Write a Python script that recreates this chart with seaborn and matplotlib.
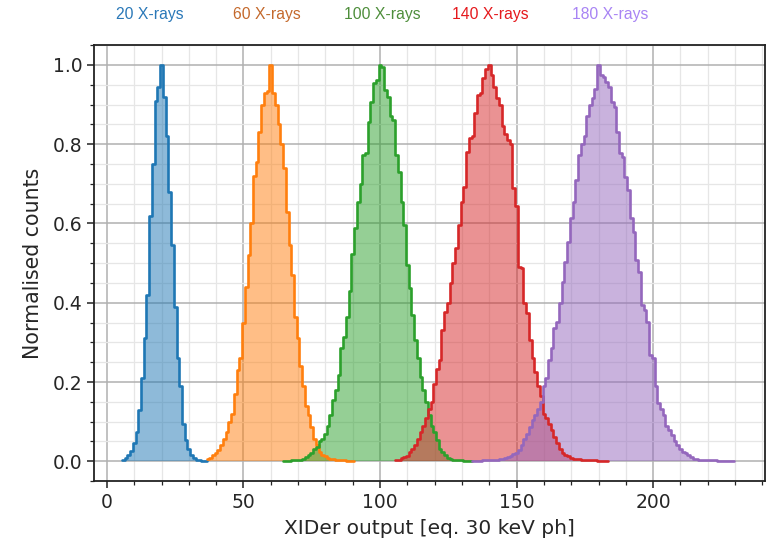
import numpy as np
import pandas as pd
import matplotlib
matplotlib.use("Agg")
import matplotlib.pyplot as plt
import seaborn as sns
from matplotlib.ticker import MultipleLocator

# ---- data (normalised counts per unit-wide bin) ----
labels = ["20 X-rays", "60 X-rays", "100 X-rays", "140 X-rays", "180 X-rays"]
first_bin = [6, 37, 65, 106, 134]

counts_20 = [0.003, 0.008, 0.015, 0.025, 0.045, 0.075, 0.13, 0.21, 0.31, 0.42, 0.62, 0.75,
             0.91, 0.945, 1.0, 0.92, 0.82, 0.68, 0.545, 0.39, 0.26, 0.19, 0.095, 0.053,
             0.032, 0.015, 0.008, 0.004, 0.002, 0.001, 0.0005]
counts_60 = [0.005, 0.008, 0.015, 0.02, 0.028, 0.04, 0.057, 0.074, 0.10, 0.12, 0.17, 0.23,
             0.26, 0.35, 0.44, 0.52, 0.60, 0.72, 0.756, 0.83, 0.90, 0.93, 0.933, 1.0,
             0.93, 0.90, 0.85, 0.80, 0.74, 0.63, 0.545, 0.47, 0.365, 0.31, 0.24, 0.19,
             0.14, 0.116, 0.087, 0.057, 0.04, 0.024, 0.017, 0.013, 0.009, 0.007, 0.005,
             0.004, 0.003, 0.002, 0.002, 0.001, 0.001, 0.001]
counts_100 = [0.001, 0.001, 0.001, 0.002, 0.002, 0.003, 0.004, 0.006, 0.01, 0.015, 0.02,
              0.03, 0.036, 0.05, 0.057, 0.07, 0.09, 0.116, 0.154, 0.18, 0.217, 0.285,
              0.314, 0.365, 0.43, 0.524, 0.588, 0.655, 0.70, 0.773, 0.777, 0.857, 0.907,
              0.955, 0.962, 1.0, 0.995, 0.937, 0.92, 0.87, 0.86, 0.773, 0.73, 0.655,
              0.596, 0.495, 0.436, 0.37, 0.305, 0.26, 0.213, 0.18, 0.15, 0.116, 0.09,
              0.074, 0.053, 0.032, 0.024, 0.015, 0.009, 0.006, 0.004, 0.003, 0.002,
              0.002, 0.001, 0.001, 0.001]
counts_140 = [0.002, 0.004, 0.008, 0.01, 0.014, 0.024, 0.032, 0.042, 0.057, 0.074, 0.09,
              0.108, 0.133, 0.15, 0.196, 0.234, 0.255, 0.33, 0.377, 0.40, 0.45, 0.50,
              0.537, 0.596, 0.655, 0.693, 0.78, 0.815, 0.82, 0.878, 0.925, 0.928, 0.966,
              0.99, 1.0, 0.975, 0.945, 0.916, 0.90, 0.845, 0.825, 0.81, 0.80, 0.69,
              0.645, 0.49, 0.488, 0.40, 0.375, 0.305, 0.26, 0.225, 0.19, 0.165, 0.12,
              0.108, 0.095, 0.078, 0.06, 0.045, 0.032, 0.02, 0.015, 0.013, 0.008, 0.007,
              0.006, 0.005, 0.004, 0.003, 0.003, 0.002, 0.002, 0.002, 0.001, 0.001,
              0.001, 0.001]
counts_180 = [0.001, 0.001, 0.001, 0.001, 0.002, 0.002, 0.002, 0.003, 0.003, 0.004, 0.005,
              0.006, 0.008, 0.01, 0.013, 0.018, 0.022, 0.028, 0.04, 0.057, 0.07, 0.087,
              0.103, 0.116, 0.133, 0.15, 0.19, 0.21, 0.255, 0.285, 0.335, 0.352, 0.40,
              0.453, 0.503, 0.554, 0.613, 0.655, 0.71, 0.773, 0.80, 0.82, 0.87, 0.90,
              0.916, 0.94, 1.0, 0.975, 0.97, 0.958, 0.945, 0.907, 0.895, 0.83, 0.777,
              0.768, 0.718, 0.684, 0.613, 0.579, 0.508, 0.478, 0.394, 0.381, 0.352,
              0.268, 0.26, 0.19, 0.146, 0.133, 0.116, 0.09, 0.078, 0.066, 0.05, 0.04,
              0.032, 0.024, 0.02, 0.015, 0.011, 0.007, 0.005, 0.004, 0.003, 0.003,
              0.002, 0.002, 0.002, 0.002, 0.001, 0.001, 0.001, 0.001, 0.001, 0.001]
all_counts = [counts_20, counts_60, counts_100, counts_140, counts_180]

line_colors = ["#1f77b4", "#ff7f0e", "#2ca02c", "#d62728", "#9467bd"]
label_colors = ["#2a78b8", "#c4692c", "#4e8e3b", "#e5191d", "#a884f4"]
label_x = [0.195, 0.348, 0.499, 0.639, 0.795]

# ---- figure ----
sns.set_style("ticks")
plt.rcParams["font.family"] = ["DejaVu Sans"]

fig = plt.figure(figsize=(7.67, 5.43), dpi=100)
ax = fig.add_axes([0.1226, 0.114, 0.875, 0.803])

for start, counts, col in zip(first_bin, all_counts, line_colors):
    centers = np.arange(len(counts)) + start
    lo = float(start) - 0.5
    hi = lo + len(counts)
    df = pd.DataFrame({"x": centers.astype(float), "w": counts})
    sns.histplot(data=df, x="x", weights="w", binwidth=1, binrange=(lo, hi),
                 element="step", fill=True, color=col, alpha=0.5, linewidth=0, ax=ax)
    sns.histplot(data=df, x="x", weights="w", binwidth=1, binrange=(lo, hi),
                 element="step", fill=False, color=col, linewidth=1.9, ax=ax)

ax.set_xlim(-4.7, 241)
ax.set_ylim(-0.05, 1.05)
ax.xaxis.set_major_locator(MultipleLocator(50))
ax.xaxis.set_minor_locator(MultipleLocator(10))
ax.yaxis.set_major_locator(MultipleLocator(0.2))
ax.yaxis.set_minor_locator(MultipleLocator(0.05))
ax.set_axisbelow(True)
ax.grid(which="major", color="#b0b0b0", linewidth=1.1)
ax.grid(which="minor", color="#e6e6e6", linewidth=0.9)
ax.tick_params(which="major", length=5, width=1.1, labelsize=13.5, color="#222222")
ax.tick_params(which="minor", length=3, width=0.9, color="#222222")
for s in ax.spines.values():
    s.set_visible(True)
    s.set_linewidth(1.3)
    s.set_color("#222222")

ax.set_xlabel("XIDer output [eq. 30 keV ph]", fontsize=14.5, labelpad=5)
ax.set_ylabel("Normalised counts", fontsize=14.8, labelpad=7)

for txt, col, xx in zip(labels, label_colors, label_x):
    fig.text(xx, 0.974, txt, color=col, ha="center", va="center", fontsize=11.3,
             family=["Liberation Sans", "DejaVu Sans"])

fig.savefig("out.png", dpi=100)
